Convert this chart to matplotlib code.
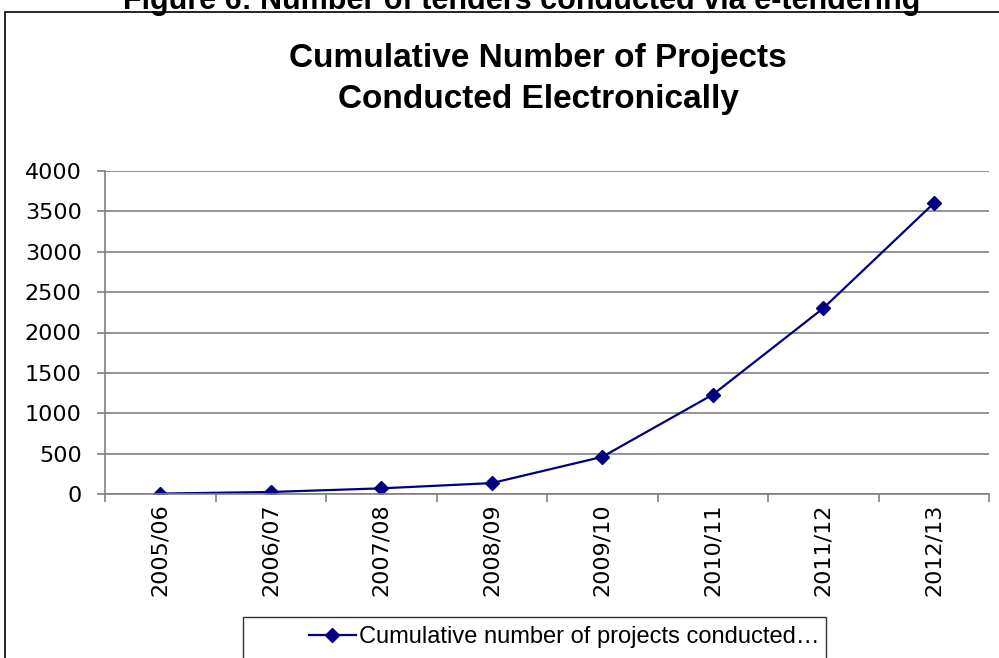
import matplotlib
matplotlib.use("Agg")
import matplotlib.pyplot as plt
from matplotlib.patches import Rectangle
from matplotlib.ticker import FixedLocator

# Data
years = ["2005/06", "2006/07", "2007/08", "2008/09",
         "2009/10", "2010/11", "2011/12", "2012/13"]
projects = [5, 25, 70, 135, 460, 1230, 2300, 3600]
y_ticks = [0, 500, 1000, 1500, 2000, 2500, 3000, 3500, 4000]

W, H = 999, 658
fig = plt.figure(figsize=(W / 100, H / 100), dpi=100)


def fx(x):
    return x / W


def fy(y):
    return 1 - y / H


# Plot area
left, right, top, bottom = 105, 989, 171, 494
ax = fig.add_axes([fx(left), fy(bottom), fx(right - left), (bottom - top) / H])

grid_col = "#808080"
navy = "#000080"

x = list(range(len(years)))
ax.plot(x, projects, color=navy, lw=1.6, marker="D", markersize=7,
        markerfacecolor=navy, markeredgecolor=navy,
        label="Cumulative number of projects conducted\u2026")

ax.set_xlim(-0.5, len(years) - 0.5)
ax.set_ylim(0, 4000)
ax.set_yticks(y_ticks)
ax.set_yticklabels([str(v) for v in y_ticks])
ax.set_xticks(x)
ax.set_xticklabels(years, rotation=90, fontsize=16)
ax.xaxis.set_minor_locator(FixedLocator([i - 0.5 for i in range(len(years) + 1)]))

ax.yaxis.grid(True, color=grid_col, lw=1.2)
ax.set_axisbelow(True)
for s in ["top", "right"]:
    ax.spines[s].set_visible(False)
for s in ["left", "bottom"]:
    ax.spines[s].set_color(grid_col)
    ax.spines[s].set_linewidth(1.2)

ax.tick_params(axis="y", length=5.8, width=1.2, color=grid_col,
               labelsize=16, pad=11)
ax.tick_params(axis="x", which="major", length=0, pad=7)
ax.tick_params(axis="x", which="minor", length=5.8, width=1.2, color=grid_col)

# Title
fig.text(fx(538), fy(79), "Cumulative Number of Projects\nConducted Electronically",
         ha="center", va="center", fontsize=24, fontweight="bold",
         family="Liberation Sans", linespacing=1.38)

# Heading above the chart frame (its upper half lies beyond the top edge)
fig.text(fx(522), fy(9), "Figure 6: Number of tenders conducted via e-tendering",
         ha="center", va="baseline", fontsize=22, fontweight="bold",
         family="Liberation Sans")

# Chart frame
fig.add_artist(Rectangle((fx(4.5), fy(H + 20)), fx(W + 20), (H + 20 - 12) / H,
                         transform=fig.transFigure, fill=False,
                         edgecolor="black", lw=1.2))

# Legend box
fig.add_artist(Rectangle((fx(243), fy(H + 20)), fx(826 - 243), (H + 20 - 617) / H,
                         transform=fig.transFigure, fill=False,
                         edgecolor="#333333", lw=1.0))
ax.legend(loc="center left", bbox_to_anchor=(fx(297), fy(637)),
          bbox_transform=fig.transFigure, frameon=False, borderpad=0,
          handlelength=2.0, handletextpad=0.12,
          prop={"family": "Liberation Sans", "size": 17})

fig.savefig("out.png", dpi=100)
